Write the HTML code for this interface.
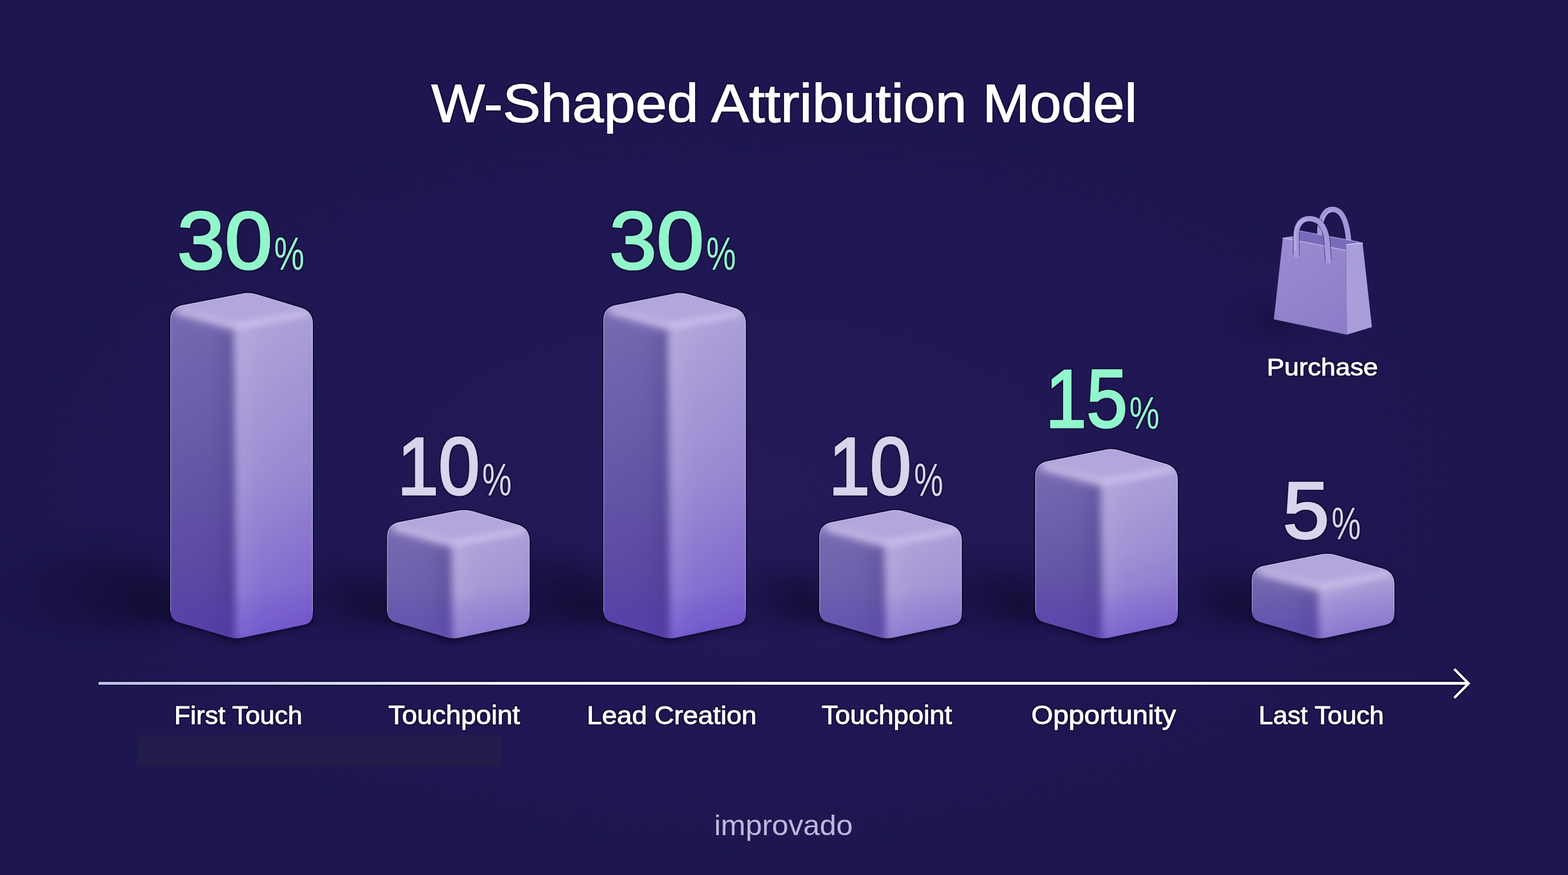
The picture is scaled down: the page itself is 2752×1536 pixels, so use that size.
<!DOCTYPE html>
<html lang="en"><head><meta charset="utf-8"><title>W-Shaped Attribution Model</title>
<style>html,body{margin:0;padding:0;background:#1f1850;width:2752px;height:1536px;overflow:hidden}svg{display:block}</style>
</head><body>
<svg width="2752" height="1536" viewBox="0 0 2752 1536">
<defs>
<radialGradient id="bgGlow" cx="1300" cy="850" r="1400" gradientUnits="userSpaceOnUse" gradientTransform="translate(1300 850) scale(1 0.5) translate(-1300 -850)">
  <stop offset="0" stop-color="#241a5a"/>
  <stop offset="0.6" stop-color="#1f1753"/>
  <stop offset="1" stop-color="#1d1650"/>
</radialGradient>
<filter id="blur30" x="-100%" y="-300%" width="300%" height="700%" color-interpolation-filters="sRGB"><feGaussianBlur stdDeviation="22 16"/></filter>
<filter id="blur14" x="-100%" y="-300%" width="300%" height="700%" color-interpolation-filters="sRGB"><feGaussianBlur stdDeviation="10"/></filter>
<filter id="blur6" x="-50%" y="-50%" width="200%" height="200%" color-interpolation-filters="sRGB"><feGaussianBlur stdDeviation="6"/></filter>
<filter id="blur9" x="-50%" y="-50%" width="200%" height="200%" color-interpolation-filters="sRGB"><feGaussianBlur stdDeviation="7"/></filter>
<filter id="blur3" x="-20%" y="-20%" width="140%" height="140%" color-interpolation-filters="sRGB"><feGaussianBlur stdDeviation="3"/></filter>
<filter id="halo" x="-5%" y="-25%" width="110%" height="150%" color-interpolation-filters="sRGB"><feMorphology in="SourceAlpha" operator="dilate" radius="2" result="d"/><feFlood flood-color="#0c0828" flood-opacity="0.55"/><feComposite in2="d" operator="in" result="h"/><feMerge><feMergeNode in="h"/><feMergeNode in="SourceGraphic"/></feMerge></filter>
<filter id="blur2" x="-20%" y="-20%" width="140%" height="140%" color-interpolation-filters="sRGB"><feGaussianBlur stdDeviation="1.5"/></filter>

<linearGradient id="shg2" x1="0" y1="0" x2="1" y2="0"><stop offset="0" stop-color="#0a0620" stop-opacity="0"/><stop offset="0.5" stop-color="#0a0620" stop-opacity="0.3"/><stop offset="1" stop-color="#0a0620" stop-opacity="0.55"/></linearGradient>
<filter id="blurS" x="-100%" y="-300%" width="300%" height="700%" color-interpolation-filters="sRGB"><feGaussianBlur stdDeviation="30 22"/></filter>
<linearGradient id="shg" x1="0" y1="0" x2="1" y2="0"><stop offset="0" stop-color="#0a0620" stop-opacity="0"/><stop offset="0.6" stop-color="#0a0620" stop-opacity="0.45"/><stop offset="1" stop-color="#0a0620" stop-opacity="0.75"/></linearGradient>
<linearGradient id="aoL" x1="0" y1="0" x2="1" y2="0"><stop offset="0" stop-color="#2a1d66" stop-opacity="0"/><stop offset="0.6" stop-color="#2a1d66" stop-opacity="0.04"/><stop offset="1" stop-color="#2a1d66" stop-opacity="0.22"/></linearGradient>
<linearGradient id="vband" x1="0" y1="0" x2="0" y2="1"><stop offset="0" stop-color="#5a3cc8" stop-opacity="0"/><stop offset="0.55" stop-color="#5a3cc8" stop-opacity="0.22"/><stop offset="1" stop-color="#5a3cc8" stop-opacity="0.3"/></linearGradient>
<linearGradient id="hlR" x1="0" y1="0" x2="1" y2="0"><stop offset="0" stop-color="#ffffff" stop-opacity="0.16"/><stop offset="0.35" stop-color="#ffffff" stop-opacity="0.06"/><stop offset="1" stop-color="#ffffff" stop-opacity="0"/></linearGradient>
<clipPath id="clip0"><path d="M299.0,562.0 Q299.0,540.0 320.6,535.8 L423.8,515.7 Q437.5,513.0 450.9,517.0 L527.9,540.2 Q549.0,546.5 549.0,568.5 L549.0,1077.5 Q549.0,1093.5 533.3,1096.8 L425.2,1119.5 Q413.5,1122.0 402.0,1118.6 L314.3,1092.6 Q299.0,1088.0 299.0,1072.0 Z"/></clipPath>
<linearGradient id="gl0" x1="0" y1="540.0" x2="0" y2="1122.0" gradientUnits="userSpaceOnUse"><stop offset="0" stop-color="#786bb2"/><stop offset="0.5" stop-color="#6658a8"/><stop offset="1" stop-color="#5640a2"/></linearGradient>
<linearGradient id="gr0" x1="0" y1="540.0" x2="0" y2="1122.0" gradientUnits="userSpaceOnUse"><stop offset="0" stop-color="#aca0d8"/><stop offset="0.5" stop-color="#9686d0"/><stop offset="1" stop-color="#745acc"/></linearGradient>
<clipPath id="rc0"><rect x="0" y="0" width="2752" height="1074.0"/></clipPath>
<clipPath id="clip1"><path d="M679.4,942.8 Q679.4,920.8 701.0,916.6 L803.4,896.5 Q817.1,893.8 830.5,897.8 L908.3,921.0 Q929.4,927.3 929.4,949.3 L929.4,1077.5 Q929.4,1093.5 913.7,1096.8 L806.4,1119.5 Q794.7,1122.0 783.2,1118.6 L694.7,1092.5 Q679.4,1088.0 679.4,1072.0 Z"/></clipPath>
<linearGradient id="gl1" x1="0" y1="920.8" x2="0" y2="1122.0" gradientUnits="userSpaceOnUse"><stop offset="0" stop-color="#786bb2"/><stop offset="0.5" stop-color="#7062ae"/><stop offset="1" stop-color="#685aa9"/></linearGradient>
<linearGradient id="gr1" x1="0" y1="920.8" x2="0" y2="1122.0" gradientUnits="userSpaceOnUse"><stop offset="0" stop-color="#aca0d8"/><stop offset="0.5" stop-color="#a294d4"/><stop offset="1" stop-color="#9889d1"/></linearGradient>
<clipPath id="rc1"><rect x="0" y="0" width="2752" height="1074.0"/></clipPath>
<clipPath id="clip2"><path d="M1059.0,562.0 Q1059.0,540.0 1080.6,535.7 L1182.2,515.7 Q1195.9,513.0 1209.3,517.0 L1287.9,540.3 Q1309.0,546.5 1309.0,568.5 L1309.0,1077.5 Q1309.0,1093.5 1293.4,1096.8 L1186.8,1119.5 Q1175.1,1122.0 1163.6,1118.6 L1074.4,1092.5 Q1059.0,1088.0 1059.0,1072.0 Z"/></clipPath>
<linearGradient id="gl2" x1="0" y1="540.0" x2="0" y2="1122.0" gradientUnits="userSpaceOnUse"><stop offset="0" stop-color="#786bb2"/><stop offset="0.5" stop-color="#6658a8"/><stop offset="1" stop-color="#5640a2"/></linearGradient>
<linearGradient id="gr2" x1="0" y1="540.0" x2="0" y2="1122.0" gradientUnits="userSpaceOnUse"><stop offset="0" stop-color="#aca0d8"/><stop offset="0.5" stop-color="#9686d0"/><stop offset="1" stop-color="#745acc"/></linearGradient>
<clipPath id="rc2"><rect x="0" y="0" width="2752" height="1074.0"/></clipPath>
<clipPath id="clip3"><path d="M1438.0,943.0 Q1438.0,921.0 1459.6,916.7 L1560.4,896.7 Q1574.1,894.0 1587.5,898.0 L1666.9,921.3 Q1688.0,927.5 1688.0,949.5 L1688.0,1077.5 Q1688.0,1093.5 1672.4,1096.9 L1566.6,1119.5 Q1554.9,1122.0 1543.4,1118.6 L1453.4,1092.5 Q1438.0,1088.0 1438.0,1072.0 Z"/></clipPath>
<linearGradient id="gl3" x1="0" y1="921.0" x2="0" y2="1122.0" gradientUnits="userSpaceOnUse"><stop offset="0" stop-color="#786bb2"/><stop offset="0.5" stop-color="#7062ae"/><stop offset="1" stop-color="#685aa9"/></linearGradient>
<linearGradient id="gr3" x1="0" y1="921.0" x2="0" y2="1122.0" gradientUnits="userSpaceOnUse"><stop offset="0" stop-color="#aca0d8"/><stop offset="0.5" stop-color="#a294d4"/><stop offset="1" stop-color="#9889d1"/></linearGradient>
<clipPath id="rc3"><rect x="0" y="0" width="2752" height="1074.0"/></clipPath>
<clipPath id="clip4"><path d="M1817.0,836.0 Q1817.0,814.0 1838.6,809.7 L1938.6,789.7 Q1952.3,787.0 1965.7,790.9 L2045.9,814.3 Q2067.0,820.5 2067.0,842.5 L2067.0,1077.5 Q2067.0,1093.5 2051.4,1096.9 L1946.4,1119.5 Q1934.7,1122.0 1923.2,1118.7 L1832.4,1092.4 Q1817.0,1088.0 1817.0,1072.0 Z"/></clipPath>
<linearGradient id="gl4" x1="0" y1="814.0" x2="0" y2="1122.0" gradientUnits="userSpaceOnUse"><stop offset="0" stop-color="#786bb2"/><stop offset="0.5" stop-color="#695baa"/><stop offset="1" stop-color="#5b47a4"/></linearGradient>
<linearGradient id="gr4" x1="0" y1="814.0" x2="0" y2="1122.0" gradientUnits="userSpaceOnUse"><stop offset="0" stop-color="#aca0d8"/><stop offset="0.5" stop-color="#998ad1"/><stop offset="1" stop-color="#7e67cd"/></linearGradient>
<clipPath id="rc4"><rect x="0" y="0" width="2752" height="1074.0"/></clipPath>
<clipPath id="clip5"><path d="M2197.2,1019.5 Q2197.2,997.5 2218.8,993.2 L2318.0,973.3 Q2331.7,970.5 2345.1,974.4 L2426.1,997.9 Q2447.2,1004.0 2447.2,1026.0 L2447.2,1077.5 Q2447.2,1093.5 2431.6,1096.9 L2327.4,1119.5 Q2315.7,1122.0 2304.2,1118.7 L2212.6,1092.4 Q2197.2,1088.0 2197.2,1072.0 Z"/></clipPath>
<linearGradient id="gl5" x1="0" y1="997.5" x2="0" y2="1122.0" gradientUnits="userSpaceOnUse"><stop offset="0" stop-color="#786bb2"/><stop offset="0.5" stop-color="#6e61ac"/><stop offset="1" stop-color="#6456a7"/></linearGradient>
<linearGradient id="gr5" x1="0" y1="997.5" x2="0" y2="1122.0" gradientUnits="userSpaceOnUse"><stop offset="0" stop-color="#aca0d8"/><stop offset="0.5" stop-color="#a092d4"/><stop offset="1" stop-color="#9382d0"/></linearGradient>
<clipPath id="rc5"><rect x="0" y="0" width="2752" height="1074.0"/></clipPath>
<linearGradient id="bagF" x1="2240" y1="410" x2="2360" y2="590" gradientUnits="userSpaceOnUse"><stop offset="0" stop-color="#9c8cd2"/><stop offset="1" stop-color="#8c7cc8"/></linearGradient></defs>
<rect width="2752" height="1536" fill="url(#bgGlow)"/>
<ellipse cx="144.4" cy="1040" rx="174.6" ry="62.9" fill="url(#shg2)" filter="url(#blurS)"/>
<ellipse cx="259.0" cy="1070" rx="60.0" ry="22" fill="url(#shg)" filter="url(#blur30)"/>
<path d="M294.0,1084.0 L414.0,1124.0 L554.0,1090.0" stroke="#07041a" stroke-width="8" fill="none" opacity="0.7" filter="url(#blur6)"/>
<ellipse cx="601.0" cy="1040" rx="98.4" ry="40.0" fill="url(#shg2)" filter="url(#blurS)"/>
<ellipse cx="639.4" cy="1070" rx="60.0" ry="22" fill="url(#shg)" filter="url(#blur30)"/>
<path d="M674.4,1084.0 L794.4,1124.0 L934.4,1090.0" stroke="#07041a" stroke-width="8" fill="none" opacity="0.7" filter="url(#blur6)"/>
<ellipse cx="904.4" cy="1040" rx="174.6" ry="62.9" fill="url(#shg2)" filter="url(#blurS)"/>
<ellipse cx="1019.0" cy="1070" rx="60.0" ry="22" fill="url(#shg)" filter="url(#blur30)"/>
<path d="M1054.0,1084.0 L1174.0,1124.0 L1314.0,1090.0" stroke="#07041a" stroke-width="8" fill="none" opacity="0.7" filter="url(#blur6)"/>
<ellipse cx="1359.6" cy="1040" rx="98.4" ry="40.0" fill="url(#shg2)" filter="url(#blurS)"/>
<ellipse cx="1398.0" cy="1070" rx="60.0" ry="22" fill="url(#shg)" filter="url(#blur30)"/>
<path d="M1433.0,1084.0 L1553.0,1124.0 L1693.0,1090.0" stroke="#07041a" stroke-width="8" fill="none" opacity="0.7" filter="url(#blur6)"/>
<ellipse cx="1717.2" cy="1040" rx="119.8" ry="46.4" fill="url(#shg2)" filter="url(#blurS)"/>
<ellipse cx="1777.0" cy="1070" rx="60.0" ry="22" fill="url(#shg)" filter="url(#blur30)"/>
<path d="M1812.0,1084.0 L1932.0,1124.0 L2072.0,1090.0" stroke="#07041a" stroke-width="8" fill="none" opacity="0.7" filter="url(#blur6)"/>
<ellipse cx="2134.1" cy="1040" rx="83.1" ry="35.4" fill="url(#shg2)" filter="url(#blurS)"/>
<ellipse cx="2157.2" cy="1070" rx="60.0" ry="22" fill="url(#shg)" filter="url(#blur30)"/>
<path d="M2192.2,1084.0 L2312.2,1124.0 L2452.2,1090.0" stroke="#07041a" stroke-width="8" fill="none" opacity="0.7" filter="url(#blur6)"/>
<rect x="240.5" y="1290" width="640.5" height="55.5" fill="#221c4a"/>
<path d="M299.0,562.0 Q299.0,540.0 320.6,535.8 L423.8,515.7 Q437.5,513.0 450.9,517.0 L527.9,540.2 Q549.0,546.5 549.0,568.5 L549.0,1077.5 Q549.0,1093.5 533.3,1096.8 L425.2,1119.5 Q413.5,1122.0 402.0,1118.6 L314.3,1092.6 Q299.0,1088.0 299.0,1072.0 Z" fill="none" stroke="#0c0826" stroke-width="5" opacity="0.55"/>
<g clip-path="url(#clip0)"><g filter="url(#blur9)"><path d="M259.0,510.0 L410.0,573.5 L413.5,1162.0 L259.0,1128.0 Z" fill="url(#gl0)"/><path d="M410.0,573.5 L589.0,516.5 L589.0,1133.5 L413.5,1162.0 Z" fill="url(#gr0)"/><path d="M259.0,528.0 L437.5,473.0 L589.0,534.5 L410.0,573.5 Z" fill="#b2a6dc"/><path d="M299.0,540.0 L410.0,573.5 L413.5,1122.0 L299.0,1088.0 Z" fill="url(#aoL)"/><path d="M410.0,573.5 L549.0,546.5 L549.0,1093.5 L413.5,1122.0 Z" fill="url(#hlR)"/><path d="M259.0,1018.0 L410.0,1052.0 L589.0,1023.0 L589.0,1168.0 L259.0,1168.0 Z" fill="url(#vband)"/><path d="M299.0,548.0 L406.0,579.5" stroke="#a193cc" stroke-width="12" fill="none" opacity="0.5"/></g>
<path d="M313.0,545.0 L416.0,572.5 L541.0,549.5" stroke="#d8cff2" stroke-width="12" fill="none" opacity="0.6" stroke-linejoin="round" filter="url(#blur6)"/>
</g>
<g clip-path="url(#rc0)"><path d="M299.0,562.0 Q299.0,540.0 320.6,535.8 L423.8,515.7 Q437.5,513.0 450.9,517.0 L527.9,540.2 Q549.0,546.5 549.0,568.5 L549.0,1077.5 Q549.0,1093.5 533.3,1096.8 L425.2,1119.5 Q413.5,1122.0 402.0,1118.6 L314.3,1092.6 Q299.0,1088.0 299.0,1072.0 Z" fill="none" stroke="#e6defa" stroke-width="2.2" opacity="0.55" clip-path="url(#clip0)"/></g>
<path d="M679.4,942.8 Q679.4,920.8 701.0,916.6 L803.4,896.5 Q817.1,893.8 830.5,897.8 L908.3,921.0 Q929.4,927.3 929.4,949.3 L929.4,1077.5 Q929.4,1093.5 913.7,1096.8 L806.4,1119.5 Q794.7,1122.0 783.2,1118.6 L694.7,1092.5 Q679.4,1088.0 679.4,1072.0 Z" fill="none" stroke="#0c0826" stroke-width="5" opacity="0.55"/>
<g clip-path="url(#clip1)"><g filter="url(#blur9)"><path d="M639.4,890.8 L791.2,954.3 L794.7,1162.0 L639.4,1128.0 Z" fill="url(#gl1)"/><path d="M791.2,954.3 L969.4,897.3 L969.4,1133.5 L794.7,1162.0 Z" fill="url(#gr1)"/><path d="M639.4,908.8 L817.1,853.8 L969.4,915.3 L791.2,954.3 Z" fill="#b2a6dc"/><path d="M679.4,920.8 L791.2,954.3 L794.7,1122.0 L679.4,1088.0 Z" fill="url(#aoL)"/><path d="M791.2,954.3 L929.4,927.3 L929.4,1093.5 L794.7,1122.0 Z" fill="url(#hlR)"/><path d="M639.4,1018.0 L791.2,1052.0 L969.4,1023.0 L969.4,1168.0 L639.4,1168.0 Z" fill="url(#vband)"/><path d="M679.4,928.8 L787.2,960.3" stroke="#a193cc" stroke-width="12" fill="none" opacity="0.5"/></g>
<path d="M693.4,925.8 L797.2,953.3 L921.4,930.3" stroke="#d8cff2" stroke-width="12" fill="none" opacity="0.6" stroke-linejoin="round" filter="url(#blur6)"/>
</g>
<g clip-path="url(#rc1)"><path d="M679.4,942.8 Q679.4,920.8 701.0,916.6 L803.4,896.5 Q817.1,893.8 830.5,897.8 L908.3,921.0 Q929.4,927.3 929.4,949.3 L929.4,1077.5 Q929.4,1093.5 913.7,1096.8 L806.4,1119.5 Q794.7,1122.0 783.2,1118.6 L694.7,1092.5 Q679.4,1088.0 679.4,1072.0 Z" fill="none" stroke="#e6defa" stroke-width="2.2" opacity="0.55" clip-path="url(#clip1)"/></g>
<path d="M1059.0,562.0 Q1059.0,540.0 1080.6,535.7 L1182.2,515.7 Q1195.9,513.0 1209.3,517.0 L1287.9,540.3 Q1309.0,546.5 1309.0,568.5 L1309.0,1077.5 Q1309.0,1093.5 1293.4,1096.8 L1186.8,1119.5 Q1175.1,1122.0 1163.6,1118.6 L1074.4,1092.5 Q1059.0,1088.0 1059.0,1072.0 Z" fill="none" stroke="#0c0826" stroke-width="5" opacity="0.55"/>
<g clip-path="url(#clip2)"><g filter="url(#blur9)"><path d="M1019.0,510.0 L1171.6,573.5 L1175.1,1162.0 L1019.0,1128.0 Z" fill="url(#gl2)"/><path d="M1171.6,573.5 L1349.0,516.5 L1349.0,1133.5 L1175.1,1162.0 Z" fill="url(#gr2)"/><path d="M1019.0,528.0 L1195.9,473.0 L1349.0,534.5 L1171.6,573.5 Z" fill="#b2a6dc"/><path d="M1059.0,540.0 L1171.6,573.5 L1175.1,1122.0 L1059.0,1088.0 Z" fill="url(#aoL)"/><path d="M1171.6,573.5 L1309.0,546.5 L1309.0,1093.5 L1175.1,1122.0 Z" fill="url(#hlR)"/><path d="M1019.0,1018.0 L1171.6,1052.0 L1349.0,1023.0 L1349.0,1168.0 L1019.0,1168.0 Z" fill="url(#vband)"/><path d="M1059.0,548.0 L1167.6,579.5" stroke="#a193cc" stroke-width="12" fill="none" opacity="0.5"/></g>
<path d="M1073.0,545.0 L1177.6,572.5 L1301.0,549.5" stroke="#d8cff2" stroke-width="12" fill="none" opacity="0.6" stroke-linejoin="round" filter="url(#blur6)"/>
</g>
<g clip-path="url(#rc2)"><path d="M1059.0,562.0 Q1059.0,540.0 1080.6,535.7 L1182.2,515.7 Q1195.9,513.0 1209.3,517.0 L1287.9,540.3 Q1309.0,546.5 1309.0,568.5 L1309.0,1077.5 Q1309.0,1093.5 1293.4,1096.8 L1186.8,1119.5 Q1175.1,1122.0 1163.6,1118.6 L1074.4,1092.5 Q1059.0,1088.0 1059.0,1072.0 Z" fill="none" stroke="#e6defa" stroke-width="2.2" opacity="0.55" clip-path="url(#clip2)"/></g>
<path d="M1438.0,943.0 Q1438.0,921.0 1459.6,916.7 L1560.4,896.7 Q1574.1,894.0 1587.5,898.0 L1666.9,921.3 Q1688.0,927.5 1688.0,949.5 L1688.0,1077.5 Q1688.0,1093.5 1672.4,1096.9 L1566.6,1119.5 Q1554.9,1122.0 1543.4,1118.6 L1453.4,1092.5 Q1438.0,1088.0 1438.0,1072.0 Z" fill="none" stroke="#0c0826" stroke-width="5" opacity="0.55"/>
<g clip-path="url(#clip3)"><g filter="url(#blur9)"><path d="M1398.0,891.0 L1551.4,954.5 L1554.9,1162.0 L1398.0,1128.0 Z" fill="url(#gl3)"/><path d="M1551.4,954.5 L1728.0,897.5 L1728.0,1133.5 L1554.9,1162.0 Z" fill="url(#gr3)"/><path d="M1398.0,909.0 L1574.1,854.0 L1728.0,915.5 L1551.4,954.5 Z" fill="#b2a6dc"/><path d="M1438.0,921.0 L1551.4,954.5 L1554.9,1122.0 L1438.0,1088.0 Z" fill="url(#aoL)"/><path d="M1551.4,954.5 L1688.0,927.5 L1688.0,1093.5 L1554.9,1122.0 Z" fill="url(#hlR)"/><path d="M1398.0,1018.0 L1551.4,1052.0 L1728.0,1023.0 L1728.0,1168.0 L1398.0,1168.0 Z" fill="url(#vband)"/><path d="M1438.0,929.0 L1547.4,960.5" stroke="#a193cc" stroke-width="12" fill="none" opacity="0.5"/></g>
<path d="M1452.0,926.0 L1557.4,953.5 L1680.0,930.5" stroke="#d8cff2" stroke-width="12" fill="none" opacity="0.6" stroke-linejoin="round" filter="url(#blur6)"/>
</g>
<g clip-path="url(#rc3)"><path d="M1438.0,943.0 Q1438.0,921.0 1459.6,916.7 L1560.4,896.7 Q1574.1,894.0 1587.5,898.0 L1666.9,921.3 Q1688.0,927.5 1688.0,949.5 L1688.0,1077.5 Q1688.0,1093.5 1672.4,1096.9 L1566.6,1119.5 Q1554.9,1122.0 1543.4,1118.6 L1453.4,1092.5 Q1438.0,1088.0 1438.0,1072.0 Z" fill="none" stroke="#e6defa" stroke-width="2.2" opacity="0.55" clip-path="url(#clip3)"/></g>
<path d="M1817.0,836.0 Q1817.0,814.0 1838.6,809.7 L1938.6,789.7 Q1952.3,787.0 1965.7,790.9 L2045.9,814.3 Q2067.0,820.5 2067.0,842.5 L2067.0,1077.5 Q2067.0,1093.5 2051.4,1096.9 L1946.4,1119.5 Q1934.7,1122.0 1923.2,1118.7 L1832.4,1092.4 Q1817.0,1088.0 1817.0,1072.0 Z" fill="none" stroke="#0c0826" stroke-width="5" opacity="0.55"/>
<g clip-path="url(#clip4)"><g filter="url(#blur9)"><path d="M1777.0,784.0 L1931.2,847.5 L1934.7,1162.0 L1777.0,1128.0 Z" fill="url(#gl4)"/><path d="M1931.2,847.5 L2107.0,790.5 L2107.0,1133.5 L1934.7,1162.0 Z" fill="url(#gr4)"/><path d="M1777.0,802.0 L1952.3,747.0 L2107.0,808.5 L1931.2,847.5 Z" fill="#b2a6dc"/><path d="M1817.0,814.0 L1931.2,847.5 L1934.7,1122.0 L1817.0,1088.0 Z" fill="url(#aoL)"/><path d="M1931.2,847.5 L2067.0,820.5 L2067.0,1093.5 L1934.7,1122.0 Z" fill="url(#hlR)"/><path d="M1777.0,1018.0 L1931.2,1052.0 L2107.0,1023.0 L2107.0,1168.0 L1777.0,1168.0 Z" fill="url(#vband)"/><path d="M1817.0,822.0 L1927.2,853.5" stroke="#a193cc" stroke-width="12" fill="none" opacity="0.5"/></g>
<path d="M1831.0,819.0 L1937.2,846.5 L2059.0,823.5" stroke="#d8cff2" stroke-width="12" fill="none" opacity="0.6" stroke-linejoin="round" filter="url(#blur6)"/>
</g>
<g clip-path="url(#rc4)"><path d="M1817.0,836.0 Q1817.0,814.0 1838.6,809.7 L1938.6,789.7 Q1952.3,787.0 1965.7,790.9 L2045.9,814.3 Q2067.0,820.5 2067.0,842.5 L2067.0,1077.5 Q2067.0,1093.5 2051.4,1096.9 L1946.4,1119.5 Q1934.7,1122.0 1923.2,1118.7 L1832.4,1092.4 Q1817.0,1088.0 1817.0,1072.0 Z" fill="none" stroke="#e6defa" stroke-width="2.2" opacity="0.55" clip-path="url(#clip4)"/></g>
<path d="M2197.2,1019.5 Q2197.2,997.5 2218.8,993.2 L2318.0,973.3 Q2331.7,970.5 2345.1,974.4 L2426.1,997.9 Q2447.2,1004.0 2447.2,1026.0 L2447.2,1077.5 Q2447.2,1093.5 2431.6,1096.9 L2327.4,1119.5 Q2315.7,1122.0 2304.2,1118.7 L2212.6,1092.4 Q2197.2,1088.0 2197.2,1072.0 Z" fill="none" stroke="#0c0826" stroke-width="5" opacity="0.55"/>
<g clip-path="url(#clip5)"><g filter="url(#blur9)"><path d="M2157.2,967.5 L2312.2,1031.0 L2315.7,1162.0 L2157.2,1128.0 Z" fill="url(#gl5)"/><path d="M2312.2,1031.0 L2487.2,974.0 L2487.2,1133.5 L2315.7,1162.0 Z" fill="url(#gr5)"/><path d="M2157.2,985.5 L2331.7,930.5 L2487.2,992.0 L2312.2,1031.0 Z" fill="#b2a6dc"/><path d="M2197.2,997.5 L2312.2,1031.0 L2315.7,1122.0 L2197.2,1088.0 Z" fill="url(#aoL)"/><path d="M2312.2,1031.0 L2447.2,1004.0 L2447.2,1093.5 L2315.7,1122.0 Z" fill="url(#hlR)"/><path d="M2157.2,1018.0 L2312.2,1052.0 L2487.2,1023.0 L2487.2,1168.0 L2157.2,1168.0 Z" fill="url(#vband)"/><path d="M2197.2,1005.5 L2308.2,1037.0" stroke="#a193cc" stroke-width="12" fill="none" opacity="0.5"/></g>
<path d="M2211.2,1002.5 L2318.2,1030.0 L2439.2,1007.0" stroke="#d8cff2" stroke-width="12" fill="none" opacity="0.6" stroke-linejoin="round" filter="url(#blur6)"/>
</g>
<g clip-path="url(#rc5)"><path d="M2197.2,1019.5 Q2197.2,997.5 2218.8,993.2 L2318.0,973.3 Q2331.7,970.5 2345.1,974.4 L2426.1,997.9 Q2447.2,1004.0 2447.2,1026.0 L2447.2,1077.5 Q2447.2,1093.5 2431.6,1096.9 L2327.4,1119.5 Q2315.7,1122.0 2304.2,1118.7 L2212.6,1092.4 Q2197.2,1088.0 2197.2,1072.0 Z" fill="none" stroke="#e6defa" stroke-width="2.2" opacity="0.55" clip-path="url(#clip5)"/></g>
<defs><linearGradient id="axg" x1="173" y1="0" x2="2580" y2="0" gradientUnits="userSpaceOnUse"><stop offset="0" stop-color="#bdbdea"/><stop offset="0.3" stop-color="#eeeefc"/><stop offset="0.5" stop-color="#ffffff"/><stop offset="1" stop-color="#ffffff"/></linearGradient></defs>
<line x1="171" y1="1199.6" x2="2577" y2="1199.6" stroke="#0a0622" stroke-width="9" opacity="0.55"/>
<path d="M2552.5,1174.5 L2577.5,1199.7 L2552.5,1225" stroke="#0a0622" stroke-width="8" fill="none" opacity="0.55"/>
<line x1="172.8" y1="1199.6" x2="2577" y2="1199.6" stroke="url(#axg)" stroke-width="5"/>
<path d="M2552.5,1174.5 L2577.5,1199.7 L2552.5,1225" stroke="#ffffff" stroke-width="4.4" fill="none" stroke-linecap="butt" stroke-linejoin="miter"/>
<g><ellipse cx="2225" cy="560" rx="45" ry="14" fill="url(#shg)" filter="url(#blur30)"/><path d="M2316.4,414 C2315.5,388 2323,367.5 2338.5,367.5 C2355,367.5 2364.5,388 2367.3,426" stroke="#0e0a2c" stroke-width="12" fill="none" opacity="0.5"/><path d="M2316.4,414 C2315.5,388 2323,367.5 2338.5,367.5 C2355,367.5 2364.5,388 2367.3,426" stroke="#a194da" stroke-width="9.5" fill="none"/><path d="M2318.5,410 C2318,390 2325,371 2338.5,371" stroke="#b9aee6" stroke-width="3" fill="none" opacity="0.6"/><path d="M2280,405 L2385.8,425 L2391.5,426.4 L2362.5,429.5 L2362.5,439.5 L2280,423.2 Z" fill="#7a6abd"/><path d="M2251.6,417.6 L2270,414.5 L2280,405 L2280,423.2 L2362.5,439.5 L2363.5,587.4 L2235.7,560.4 Z" fill="url(#bagF)"/><path d="M2251.6,417.6 L2270,414.5 L2280,405 L2280,423.2 Z" fill="#a597d8"/><path d="M2251.6,417.6 L2362.5,439.5" stroke="#cfc6f0" stroke-width="1.6" fill="none" opacity="0.8"/><path d="M2280,405 L2385.8,425" stroke="#c4b9ec" stroke-width="1.4" fill="none" opacity="0.7"/><path d="M2362.5,429.5 L2391.5,426.4 L2407.8,574.3 L2363.5,587.4 Z" fill="#a99ddb"/><path d="M2362.5,429.5 L2391.5,426.4" stroke="#d8d0f4" stroke-width="1.6" fill="none"/><path d="M2275,448 L2275,414 C2275,396 2283,383.8 2298,383.8 C2314,383.8 2325,396 2328.5,418 L2331.5,458" stroke="#0e0a2c" stroke-width="12" fill="none" opacity="0.45"/><path d="M2275,448 L2275,414 C2275,396 2283,383.8 2298,383.8 C2314,383.8 2325,396 2328.5,418 L2331.5,458" stroke="#a598dc" stroke-width="9.5" fill="none" stroke-linecap="round"/><path d="M2273,440 L2273,414 C2273,398 2280,387 2294,385.5" stroke="#c2b8ec" stroke-width="3" fill="none" opacity="0.6"/></g>
<text filter="url(#halo)" x="757.00" y="214.40" font-family="'Liberation Sans', sans-serif" font-weight="normal" font-size="95.43" fill="#ffffff" textLength="1239.00" lengthAdjust="spacingAndGlyphs" stroke="#ffffff" stroke-width="1.40">W-Shaped Attribution Model</text>
<text filter="url(#halo)" x="311.00" y="471.60" font-family="'Liberation Sans', sans-serif" font-weight="normal" font-size="142.54" fill="#92f6cc" textLength="166.80" lengthAdjust="spacingAndGlyphs" stroke="#92f6cc" stroke-width="3.60">30</text>
<text filter="url(#halo)" x="481.00" y="474.40" font-family="'Liberation Sans', sans-serif" font-weight="normal" font-size="80.92" fill="#92f6cc" textLength="53.20" lengthAdjust="spacingAndGlyphs">%</text>
<text filter="url(#halo)" x="697.60" y="868.20" font-family="'Liberation Sans', sans-serif" font-weight="normal" font-size="142.00" fill="#d9d4ec" textLength="144.40" lengthAdjust="spacingAndGlyphs" stroke="#d9d4ec" stroke-width="3.60">10</text>
<text filter="url(#halo)" x="846.20" y="870.20" font-family="'Liberation Sans', sans-serif" font-weight="normal" font-size="79.77" fill="#d9d4ec" textLength="51.80" lengthAdjust="spacingAndGlyphs">%</text>
<text filter="url(#halo)" x="1069.60" y="471.60" font-family="'Liberation Sans', sans-serif" font-weight="normal" font-size="142.54" fill="#92f6cc" textLength="165.80" lengthAdjust="spacingAndGlyphs" stroke="#92f6cc" stroke-width="3.60">30</text>
<text filter="url(#halo)" x="1239.60" y="474.40" font-family="'Liberation Sans', sans-serif" font-weight="normal" font-size="80.92" fill="#92f6cc" textLength="52.20" lengthAdjust="spacingAndGlyphs">%</text>
<text filter="url(#halo)" x="1454.60" y="867.60" font-family="'Liberation Sans', sans-serif" font-weight="normal" font-size="142.27" fill="#d9d4ec" textLength="144.60" lengthAdjust="spacingAndGlyphs" stroke="#d9d4ec" stroke-width="3.60">10</text>
<text filter="url(#halo)" x="1604.20" y="870.60" font-family="'Liberation Sans', sans-serif" font-weight="normal" font-size="80.63" fill="#d9d4ec" textLength="51.20" lengthAdjust="spacingAndGlyphs">%</text>
<text filter="url(#halo)" x="1835.00" y="750.00" font-family="'Liberation Sans', sans-serif" font-weight="normal" font-size="144.17" fill="#92f6cc" textLength="143.80" lengthAdjust="spacingAndGlyphs" stroke="#92f6cc" stroke-width="3.60">15</text>
<text filter="url(#halo)" x="1982.00" y="753.00" font-family="'Liberation Sans', sans-serif" font-weight="normal" font-size="79.19" fill="#92f6cc" textLength="53.00" lengthAdjust="spacingAndGlyphs">%</text>
<text filter="url(#halo)" x="2251.40" y="945.00" font-family="'Liberation Sans', sans-serif" font-weight="normal" font-size="141.71" fill="#d9d4ec" textLength="81.60" lengthAdjust="spacingAndGlyphs" stroke="#d9d4ec" stroke-width="3.60">5</text>
<text filter="url(#halo)" x="2337.00" y="946.80" font-family="'Liberation Sans', sans-serif" font-weight="normal" font-size="78.92" fill="#d9d4ec" textLength="51.40" lengthAdjust="spacingAndGlyphs">%</text>
<text filter="url(#halo)" x="2223.20" y="658.80" font-family="'Liberation Sans', sans-serif" font-weight="normal" font-size="43.05" fill="#ffffff" textLength="195.40" lengthAdjust="spacingAndGlyphs" stroke="#ffffff" stroke-width="1.00">Purchase</text>
<text filter="url(#halo)" x="305.80" y="1270.60" font-family="'Liberation Sans', sans-serif" font-weight="normal" font-size="44.71" fill="#ffffff" textLength="225.00" lengthAdjust="spacingAndGlyphs" stroke="#ffffff" stroke-width="1.00">First Touch</text>
<text filter="url(#halo)" x="681.60" y="1270.80" font-family="'Liberation Sans', sans-serif" font-weight="normal" font-size="45.89" fill="#ffffff" textLength="231.00" lengthAdjust="spacingAndGlyphs" stroke="#ffffff" stroke-width="1.00">Touchpoint</text>
<text filter="url(#halo)" x="1030.00" y="1270.60" font-family="'Liberation Sans', sans-serif" font-weight="normal" font-size="44.71" fill="#ffffff" textLength="298.00" lengthAdjust="spacingAndGlyphs" stroke="#ffffff" stroke-width="1.00">Lead Creation</text>
<text filter="url(#halo)" x="1442.00" y="1270.80" font-family="'Liberation Sans', sans-serif" font-weight="normal" font-size="45.89" fill="#ffffff" textLength="229.00" lengthAdjust="spacingAndGlyphs" stroke="#ffffff" stroke-width="1.00">Touchpoint</text>
<text filter="url(#halo)" x="1810.00" y="1270.80" font-family="'Liberation Sans', sans-serif" font-weight="normal" font-size="45.89" fill="#ffffff" textLength="254.00" lengthAdjust="spacingAndGlyphs" stroke="#ffffff" stroke-width="1.00">Opportunity</text>
<text filter="url(#halo)" x="2209.00" y="1270.60" font-family="'Liberation Sans', sans-serif" font-weight="normal" font-size="44.71" fill="#ffffff" textLength="220.00" lengthAdjust="spacingAndGlyphs" stroke="#ffffff" stroke-width="1.00">Last Touch</text>
<text x="1253.40" y="1466.40" font-family="'Liberation Sans', sans-serif" font-weight="normal" font-size="50.01" fill="#bdb8dc" textLength="243.40" lengthAdjust="spacingAndGlyphs">improvado</text>
</svg>
</body></html>
